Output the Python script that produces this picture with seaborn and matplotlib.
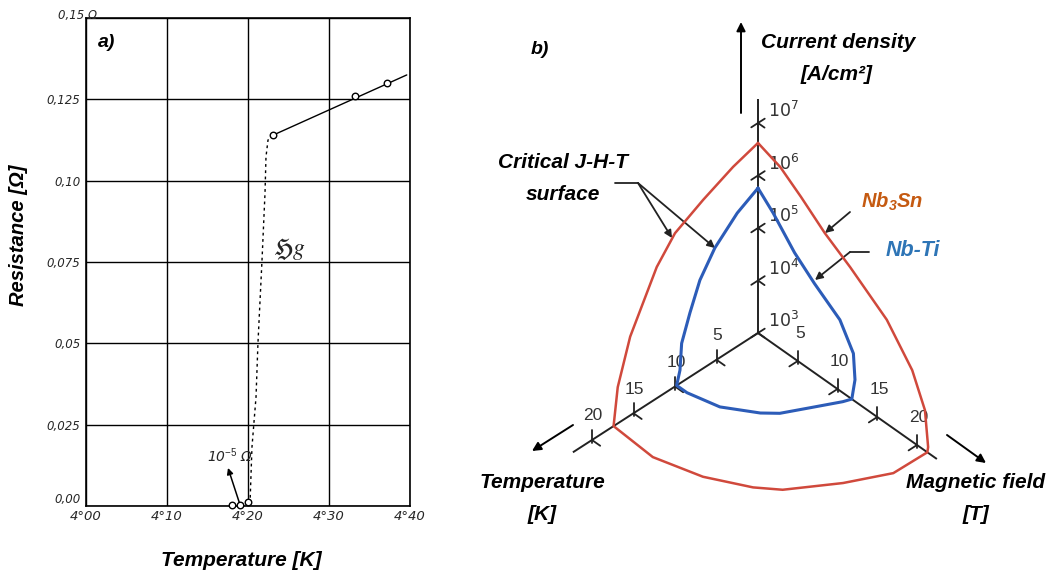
import numpy as np
import pandas as pd
import matplotlib
matplotlib.use("Agg")
import matplotlib.pyplot as plt
import seaborn as sns

# ---------------- Panel a data (Onnes, mercury) ----------------
rt_temp_K = [4.231, 4.332, 4.372]
rt_res_ohm = [0.1140, 0.1260, 0.1300]
fit_temp_K = [4.231, 4.396]
fit_res_ohm = [0.1140, 0.1325]
trans_temp_K = [4.231, 4.2247, 4.2222, 4.2210, 4.2173, 4.2123, 4.2099, 4.2049, 4.2025]
trans_res_ohm = [0.1140, 0.1125, 0.1073, 0.0962, 0.0756, 0.0501, 0.0335, 0.0181, 0.0009]
low_temp_K = [4.180, 4.190, 4.200]
low_res_ohm = [0.0003, 0.0003, 0.0012]
a_xticks = [4.0, 4.1, 4.2, 4.3, 4.4]
a_xlabels = ["4°00", "4°10", "4°20", "4°30", "4°40"]
a_yticks = [0.0, 0.025, 0.05, 0.075, 0.10, 0.125]
a_ylabels = ["0,00", "0,025", "0,05", "0,075", "0,10", "0,125"]

# ---------------- Panel b data (critical surfaces) ----------------
# J-T plane (H = 0)
nb3sn_JT_T = [0, 3.0, 6.6, 10.0, 12.2, 15.4, 16.9, 17.4]
nb3sn_JT_logJ = [6.62, 6.47, 6.21, 5.92, 5.50, 4.50, 3.69, 3.0]
# J-H plane (T = 0)
nb3sn_JH_H = [0, 2.8, 5.4, 8.4, 11.6, 16.2, 19.4, 21.0, 21.4, 21.3]
nb3sn_JH_logJ = [6.62, 6.46, 6.17, 5.80, 5.49, 4.98, 4.36, 3.77, 3.11, 3.0]
# T-H plane (J = 10^3)
nb3sn_TH_T = [17.4, 17.7, 16.3, 14.1, 12.45, 8.05, 4.0, 0]
nb3sn_TH_H = [0, 5.25, 10.1, 14.1, 16.1, 19.1, 21.2, 21.3]

nbti_JT_T = [0, 2.5, 5.2, 7.0, 8.2, 9.2, 9.4, 9.8]
nbti_JT_logJ = [5.76, 5.54, 5.15, 4.72, 4.22, 3.74, 3.25, 3.0]
nbti_JH_H = [0, 1.9, 4.6, 7.1, 10.3, 12.0, 12.2, 11.8]
nbti_JH_logJ = [5.76, 5.49, 5.02, 4.70, 4.35, 3.89, 3.41, 3.0]
nbti_TH_T = [9.8, 9.8, 9.0, 7.0, 5.8, 3.4, 0.8, 0]
nbti_TH_H = [0, 1.3, 4.6, 7.6, 8.8, 10.1, 11.5, 11.8]

J_ticks_log = [4, 5, 6, 7]
J_labels_log = [3, 4, 5, 6, 7]
T_ticks = [5, 10, 15, 20]
H_ticks = [5, 10, 15, 20]

# ---------------- style ----------------
sns.set_style("white")
plt.rcParams["font.family"] = ["Liberation Sans", "DejaVu Sans"]
plt.rcParams["mathtext.fontset"] = "custom"
plt.rcParams["mathtext.rm"] = "Liberation Sans"
plt.rcParams["mathtext.it"] = "Liberation Sans:italic:bold"
plt.rcParams["mathtext.bf"] = "Liberation Sans:italic:bold"

W, H_ = 1054, 570
fig = plt.figure(figsize=(W / 100, H_ / 100), dpi=100)
fig.patch.set_facecolor("white")

LBL = dict(fontweight="bold", fontstyle="italic", color="black")
FS = 15

# ---------------- Panel b ----------------
axb = fig.add_axes([0, 0, 1, 1])

O = np.array([758.0, 333.0])
eT = np.array([-8.3, 5.35])
eH = np.array([7.95, 5.6])
eJ = np.array([0.0, -52.5])


def proj(T, Hf, logJ):
    T = np.asarray(T, float); Hf = np.asarray(Hf, float); logJ = np.asarray(logJ, float)
    x = O[0] + T * eT[0] + Hf * eH[0] + (logJ - 3) * eJ[0]
    y = O[1] + T * eT[1] + Hf * eH[1] + (logJ - 3) * eJ[1]
    return x, y


def loop(JT_T, JT_logJ, TH_T, TH_H, JH_H, JH_logJ):
    x1, y1 = proj(JT_T, np.zeros(len(JT_T)), JT_logJ)
    x2, y2 = proj(TH_T, TH_H, np.full(len(TH_T), 3.0))
    x3, y3 = proj(np.zeros(len(JH_H)), JH_H, JH_logJ)
    xs = np.concatenate([x1, x2, x3[::-1]])
    ys = np.concatenate([y1, y2, y3[::-1]])
    return pd.DataFrame({"x": xs, "y": ys})


axis_col = "#222222"
for (a, b) in [((0, 0, 3), (0, 0, 7.46)), ((0, 0, 3), (22.3, 0, 3)), ((0, 0, 3), (0, 22.5, 3))]:
    xa, ya = proj(*a)
    xb, yb = proj(*b)
    axb.plot([xa, xb], [ya, yb], color=axis_col, lw=1.4, solid_capstyle="butt", zorder=2)

uT = eT / np.linalg.norm(eT)
uH = eH / np.linalg.norm(eH)
tk = dict(color=axis_col, lw=1.3, zorder=2)
for lj in [3] + J_ticks_log:
    p = np.array(proj(0, 0, lj))
    a0, a1 = p - 8 * uT, p + 8 * uT
    axb.plot([a0[0], a1[0]], [a0[1], a1[1]], **tk)
    b1 = p + 8 * uH
    axb.plot([p[0], b1[0]], [p[1], b1[1]], **tk)
for lj in J_labels_log:
    x, y = proj(0, 0, lj)
    axb.text(x + 10, y - 13, r"$10^{%d}$" % lj, ha="left", va="center", fontsize=12.5,
             color="#333333", math_fontfamily="dejavusans", zorder=3)
for t in T_ticks:
    p = np.array(proj(t, 0, 3))
    axb.plot([p[0], p[0]], [p[1] + 3, p[1] - 10], **tk)
    b1 = p + 10 * uH
    axb.plot([p[0], b1[0]], [p[1], b1[1]], **tk)
    axb.text(p[0] + 1, p[1] - 24, str(t), ha="center", va="center", fontsize=12.5,
             color="#333333", family="Liberation Sans", zorder=3)
for h in H_ticks:
    p = np.array(proj(0, h, 3))
    axb.plot([p[0], p[0]], [p[1] + 3, p[1] - 10], **tk)
    b1 = p + 10 * uT
    axb.plot([p[0], b1[0]], [p[1], b1[1]], **tk)
    axb.text(p[0] + 2, p[1] - 27, str(h), ha="center", va="center", fontsize=12.5,
             color="#333333", family="Liberation Sans", zorder=3)

red_df = loop(nb3sn_JT_T, nb3sn_JT_logJ, nb3sn_TH_T, nb3sn_TH_H, nb3sn_JH_H, nb3sn_JH_logJ)
blue_df = loop(nbti_JT_T, nbti_JT_logJ, nbti_TH_T, nbti_TH_H, nbti_JH_H, nbti_JH_logJ)
sns.lineplot(data=red_df, x="x", y="y", sort=False, estimator=None, ax=axb,
             color="#d0493c", lw=1.8, zorder=4)
sns.lineplot(data=blue_df, x="x", y="y", sort=False, estimator=None, ax=axb,
             color="#2c5cb8", lw=2.2, zorder=4)
axb.set_xlim(0, W)
axb.set_ylim(H_, 0)
axb.axis("off")

arr = dict(arrowstyle="-|>", color="black", lw=1.4, mutation_scale=13, shrinkA=0, shrinkB=0)
axb.annotate("", xy=(741, 22), xytext=(741, 113), arrowprops=arr)
axb.annotate("", xy=(532, 451), xytext=(573, 425), arrowprops=arr)
axb.annotate("", xy=(986, 463), xytext=(947, 435), arrowprops=arr)

sarr = dict(arrowstyle="-|>", color="#222222", lw=1.3, mutation_scale=11, shrinkA=0, shrinkB=0)
axb.plot([615, 638], [183, 183], color="#222222", lw=1.3)
axb.annotate("", xy=(672, 238), xytext=(638, 183), arrowprops=sarr)
axb.annotate("", xy=(715, 248), xytext=(638, 183), arrowprops=sarr)
axb.annotate("", xy=(825, 233), xytext=(850, 212), arrowprops=sarr)
axb.plot([850, 869], [252, 252], color="#222222", lw=1.3)
axb.annotate("", xy=(815, 280), xytext=(850, 252), arrowprops=sarr)

axb.text(540, 49, "b)", ha="center", va="center", fontsize=14, **LBL)
axb.text(838, 43, "Current density", ha="center", va="center", fontsize=FS, **LBL)
axb.text(837, 74, "[A/cm²]", ha="center", va="center", fontsize=FS, **LBL)
axb.text(563, 163, "Critical J-H-T", ha="center", va="center", fontsize=FS, **LBL)
axb.text(563, 195, "surface", ha="center", va="center", fontsize=FS, **LBL)
axb.text(892, 202, r"$\mathbf{Nb_3Sn}$", ha="center", va="center", fontsize=14.5, color="#c55a11")
axb.text(913, 251, "Nb-Ti", ha="center", va="center", fontsize=15.5, fontweight="bold",
         fontstyle="italic", color="#2e75b6")
axb.text(542, 483, "Temperature", ha="center", va="center", fontsize=FS, **LBL)
axb.text(542, 515, "[K]", ha="center", va="center", fontsize=FS, **LBL)
axb.text(976, 483, "Magnetic field", ha="center", va="center", fontsize=FS, **LBL)
axb.text(976, 515, "[T]", ha="center", va="center", fontsize=FS, **LBL)

# ---------------- Panel a ----------------
x0, x1, y0, y1 = 86, 410, 18, 506
axa = fig.add_axes([x0 / W, (H_ - y1) / H_, (x1 - x0) / W, (y1 - y0) / H_])
axa.set_xlim(4.0, 4.4)
axa.set_ylim(0.0, 0.15)

sns.lineplot(x=fit_temp_K, y=fit_res_ohm, ax=axa, color="black", lw=1.0, zorder=3)
sns.lineplot(x=trans_temp_K, y=trans_res_ohm, ax=axa, sort=False, estimator=None,
             color="black", lw=1.0, ls=(0, (2, 2.5)), zorder=3)
sns.scatterplot(x=rt_temp_K + low_temp_K, y=rt_res_ohm + low_res_ohm, ax=axa,
                marker="o", s=22, facecolor="white", edgecolor="black", linewidth=1.0,
                zorder=4, clip_on=False)

axa.set_xticks(a_xticks)
axa.set_xticklabels(a_xlabels, fontsize=9.5, fontstyle="italic", family="DejaVu Sans")
axa.set_yticks(a_yticks + [0.15])
axa.set_yticklabels(a_ylabels + [""], fontsize=8.5, fontstyle="italic", family="DejaVu Sans")
axa.get_yticklabels()[0].set_va("bottom")
axa.tick_params(axis="both", length=0, pad=4)
axa.tick_params(axis="x", pad=3)
axa.grid(True, color="black", lw=1.0)
for s in axa.spines.values():
    s.set_visible(True)
    s.set_color("black")
    s.set_linewidth(1.2)

axa.text(-0.086, 1.006, "0,15 Ω", transform=axa.transAxes, ha="left", va="center",
         fontsize=8.5, fontstyle="italic", family="DejaVu Sans")
axa.text(0.065, 0.949, "a)", transform=axa.transAxes, ha="center", va="center", fontsize=14, **LBL)
axa.text(4.2506, 0.0787, r"$\mathfrak{H}\mathit{g}$", ha="center", va="center", fontsize=17,
         math_fontfamily="stix")
axa.annotate("", xy=(4.1753, 0.0117), xytext=(4.190, 0.0005),
             arrowprops=dict(arrowstyle="-|>", color="black", lw=1.1, mutation_scale=9,
                             shrinkA=0, shrinkB=0))
axa.text(4.1778, 0.0154, r"10$^{-5}$ Ω", ha="center", va="center", fontsize=10,
         fontstyle="italic", family="DejaVu Sans")

axa.set_ylabel("Resistance [Ω]", fontsize=14.5, **LBL)
axa.yaxis.set_label_coords(-0.18, 0.555)
axa.set_xlabel("Temperature [K]", fontsize=FS, **LBL)
axa.xaxis.set_label_coords(0.478, -0.092)

fig.savefig("out.png", dpi=100, facecolor="white")
